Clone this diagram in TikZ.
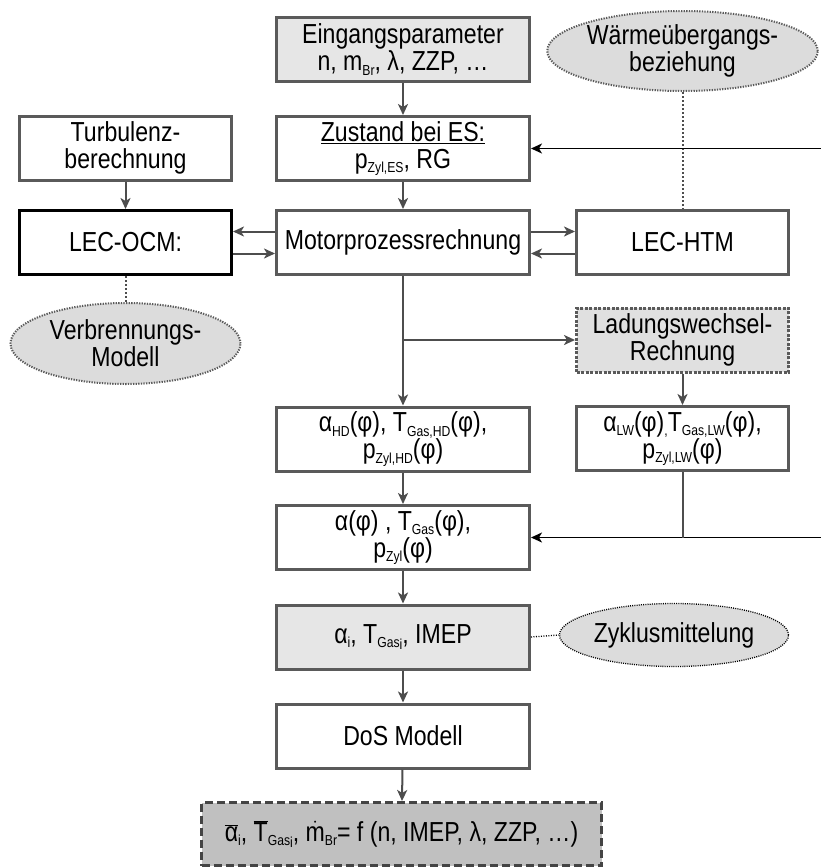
\documentclass[tikz,border=0pt]{standalone}
\usepackage{fontspec}
\setmainfont[FakeStretch=0.84]{Liberation Sans}
\usetikzlibrary{arrows.meta,shapes.geometric}
\newcommand\myfont{\fontsize{27.5}{27}\selectfont}
\newcommand\mysub[1]{\raisebox{-4.5pt}{\fontsize{14.5}{14.5}\selectfont #1}}
\definecolor{bordergray}{HTML}{5A5A5A}
\definecolor{arrgray}{HTML}{4D4D4D}
\definecolor{lightfill}{HTML}{E6E6E6}
\definecolor{lwfill}{HTML}{E0E0E0}
\definecolor{ellfill}{HTML}{DCDCDC}
\definecolor{resfill}{HTML}{C0C0C0}
\definecolor{resborder}{HTML}{444444}
\begin{document}
\begin{tikzpicture}[x=1pt,y=-1pt,
  box/.style={draw=bordergray, line width=3pt, inner sep=0pt, align=center,
    minimum width=253pt, minimum height=64pt, font=\myfont, fill=white},
  sbox/.style={box, minimum width=212pt},
  ell/.style={ellipse, draw=bordergray, line width=2pt, dash pattern=on 1.3pt off 1.3pt,
    fill=ellfill, inner sep=0pt, align=center, font=\myfont},
  arr/.style={draw=arrgray, line width=2pt, -{Stealth[length=11pt,width=10pt,inset=3pt]}},
  fb/.style={draw=black, line width=1.6pt, -{Stealth[length=11pt,width=10pt,inset=3pt]}},
  dotl/.style={draw=arrgray, line width=2pt, dash pattern=on 2pt off 2pt}]
\useasboundingbox (0,0) rectangle (821,868);

\node[box, fill=lightfill] (ein) at (403,49.5) {Eingangsparameter\\n, m\mysub{Br}, λ, ZZP, …};
\node[box] (zus) at (403,148.5) {\underline{Zustand bei ES:}\\p\mysub{Zyl,ES}, RG};
\node[sbox] (turb) at (125.5,148) {Turbulenz-\\berechnung};
\node[sbox, draw=black] (ocm) at (125.5,242.5) {LEC-OCM:};
\node[box] (mot) at (403,242.5) {Motorprozessrechnung};
\node[sbox] (htm) at (682.5,242.5) {LEC-HTM};
\node[ell, minimum width=230pt, minimum height=80pt] (waerme) at (682.5,51) {Wärmeübergangs-\\beziehung};
\node[ell, minimum width=230pt, minimum height=81pt] (verb) at (125.5,343.5) {Verbrennungs-\\Modell};
\node[sbox, fill=lwfill, dash pattern=on 3pt off 1.5pt] (lw) at (682.5,340) {Ladungswechsel-\\Rechnung};
\node[box] (ahd) at (403,439) {α\mysub{HD}(φ), T\mysub{Gas,HD}(φ),\\p\mysub{Zyl,HD}(φ)};
\node[sbox] (alw) at (682.5,438.5) {α\mysub{LW}(φ)\mysub{,}T\mysub{Gas,LW}(φ),\\p\mysub{Zyl,LW}(φ)};
\node[box] (alpha) at (403,537.5) {α(φ) , T\mysub{Gas}(φ),\\p\mysub{Zyl}(φ)};
\node[box, fill=lightfill] (ai) at (403,637) {α\mysub{i}, T\mysub{Gas\raisebox{-2pt}{i}}, IMEP};
\node[ell, draw=black, line width=1.3pt, dash pattern=on 1pt off 1.2pt,
  minimum width=229pt, minimum height=63pt] (zyk) at (674,635) {Zyklusmittelung};
\node[box] (dos) at (403,736) {DoS Modell};
\node[box, fill=resfill, draw=resborder, dash pattern=on 8pt off 4pt,
  minimum width=400pt, minimum height=63pt] (res) at (401.5,834)
  {\ensuremath{\overline{\mbox{α}}}\mysub{i}, \ensuremath{\overline{\mbox{T}}}\mysub{Gas\raisebox{-2pt}{i}}, \ensuremath{\dot{\mbox{m}}}\mysub{Br}= f (n, IMEP, λ, ZZP, …)};

\coordinate (fbA) at (821,148.5);
\coordinate (fbB) at (821,537.5);

\draw[arr] (ein) -- (zus);
\draw[arr] (zus) -- (mot);
\draw[arr] (turb) -- (ocm);
\draw[arr] ([yshift=11pt]mot.west) -- ([yshift=11pt]ocm.east);
\draw[arr] ([yshift=-11pt]ocm.east) -- ([yshift=-11pt]mot.west);
\draw[arr] ([yshift=11pt]mot.east) -- ([yshift=11pt]htm.west);
\draw[arr] ([yshift=-11pt]htm.west) -- ([yshift=-11pt]mot.east);
\draw[dotl] (ocm.south) -- (verb.north);
\draw[dotl] (waerme.south) -- (htm.north);
\draw[arr] (mot) -- (ahd);
\draw[arr] (mot.south |- lw.west) -- (lw.west);
\draw[arr] (lw) -- (alw);
\draw[arr] (ahd) -- (alpha);
\draw[arr] (alpha) -- (ai);
\draw[arr] (ai) -- (dos);
\draw[arr] (dos) -- (res);
\draw[fb] (fbA) -- (zus.east);
\draw[fb] (fbB) -- (alpha.east);
\draw[draw=arrgray, line width=2pt] (alw.south) -- (alw.south |- alpha.east);
\draw[black, line width=1.3pt, dash pattern=on 1pt off 1.5pt] (ai.east) -- (zyk.west);
\end{tikzpicture}
\end{document}
